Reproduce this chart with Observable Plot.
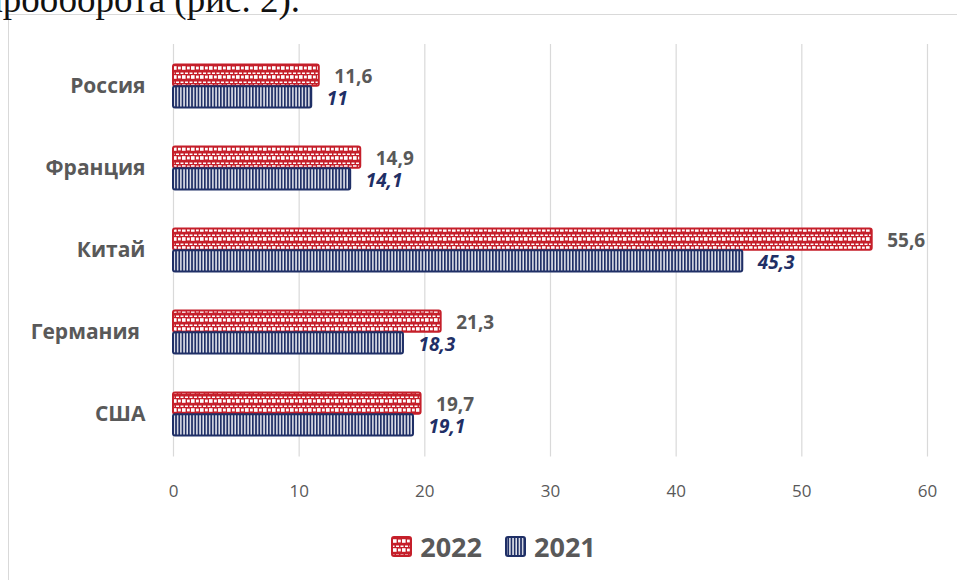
<!DOCTYPE html>
<html>
<head>
<meta charset="utf-8">
<script src="https://cdn.jsdelivr.net/npm/d3@7"></script>
<script src="https://cdn.jsdelivr.net/npm/@observablehq/plot@0.6"></script>
<style>
  html, body { margin: 0; padding: 0; background: #fff; }
  #wrap { position: relative; width: 957px; height: 580px; overflow: hidden; }
  #frame { position: absolute; left: 8px; top: 14px; width: 1200px; height: 1200px; border: 1.5px solid #d9d9d9; box-sizing: border-box; }
  #lead { position: absolute; right: 657px; top: -19px; font-family: "Liberation Serif", serif; font-size: 37px; line-height: 37px; color: #111; white-space: nowrap; }
  #chart { position: absolute; left: 0; top: 0; }
  #chart svg [aria-label="x-axis tick label"] { font-size: 17px; }
  #chart svg [aria-label="y-axis tick label"] { font-size: 21px; font-weight: 700; }
  #legend { position: absolute; left: 15px; top: 528px; width: 957px; display: flex; justify-content: center; align-items: center; gap: 23px; font-family: "Open Sans", sans-serif; font-weight: 700; font-size: 27px; color: #595959; }
  #legend .item { display: flex; align-items: center; gap: 8px; }
  #legend svg { display: block; }
</style>
</head>
<body>
<div id="wrap">
  <div id="frame"></div>
  <div id="lead">товарооборота (рис. 2).</div>
  <div id="chart"></div>
  <div id="legend"></div>
</div>
<script>
const countries = ["Россия", "Франция", "Китай", "Германия", "США"];
const values2022 = [11.6, 14.9, 55.6, 21.3, 19.7];
const values2021 = [11, 14.1, 45.3, 18.3, 19.1];
const labels2022 = ["11,6", "14,9", "55,6", "21,3", "19,7"];
const labels2021 = ["11", "14,1", "45,3", "18,3", "19,1"];
const xTicks = [0, 10, 20, 30, 40, 50, 60];
const seriesNames = ["2022", "2021"];

const red = "#C51F2A";
const navy = "#1F2F66";
const gray = "#595959";

const rows = countries.map((c, i) => ({
  country: c, v22: values2022[i], v21: values2021[i], l22: labels2022[i], l21: labels2021[i]
}));

const plot = Plot.plot({
  width: 957,
  height: 515,
  marginLeft: 173,
  marginRight: 30,
  marginTop: 44,
  marginBottom: 58.5,
  style: { fontFamily: "Open Sans, sans-serif", background: "transparent", overflow: "visible" },
  x: { domain: [0, 60], ticks: xTicks },
  y: { domain: countries, padding: 0 },
  marks: [
    Plot.gridX(xTicks, { stroke: "#d9d9d9", strokeOpacity: 1, strokeWidth: 1.2 }),
    Plot.axisX(xTicks, {
      tickSize: 0, tickPadding: 28, fontSize: 17, color: gray, label: null,
      tickFormat: d => String(d)
    }),
    Plot.axisY({
      tickSize: 0, tickPadding: 28, fontSize: 21, fontWeight: "bold", color: gray, label: null,
      tickFormat: d => d === "Германия" ? d + "\u00a0" : d
    }),
    Plot.barX(rows, {
      x: "v22", y: "country", insetTop: 19.5, insetBottom: 41.25,
      fill: "url(#pat2022)", stroke: red, strokeWidth: 2, rx: 2
    }),
    Plot.barX(rows, {
      x: "v21", y: "country", insetTop: 41.25, insetBottom: 19.5,
      fill: "url(#pat2021)", stroke: navy, strokeWidth: 2, rx: 2
    }),
    Plot.text(rows, {
      x: "v22", y: "country", text: "l22", textAnchor: "start", dx: 15, dy: -10,
      fill: gray, fontSize: 19, fontWeight: "bold"
    }),
    Plot.text(rows, {
      x: "v21", y: "country", text: "l21", textAnchor: "start", dx: 15, dy: 12,
      fill: navy, fontSize: 19, fontWeight: "bold", fontStyle: "italic"
    })
  ]
});

function addDefs(svgSel) {
  const defs = svgSel.insert("defs", ":first-child");
  const p1 = defs.append("pattern").attr("id", "pat2022").attr("patternUnits", "userSpaceOnUse")
    .attr("width", 9).attr("height", 9);
  p1.append("rect").attr("width", 9).attr("height", 9).attr("fill", red);
  [[0.5, 0.5, 3, 1.5], [5, 0.5, 3, 1.5], [2, 3.2, 3.6, 3.6], [7, 3.6, 2, 2.8], [0, 3.6, 0.8, 2.8]].forEach(([x, y, w, h]) =>
    p1.append("rect").attr("x", x).attr("y", y).attr("width", w).attr("height", h).attr("fill", "#fff"));
  const p2 = defs.append("pattern").attr("id", "pat2021").attr("patternUnits", "userSpaceOnUse")
    .attr("width", 3.2).attr("height", 8);
  p2.append("rect").attr("width", 3.2).attr("height", 8).attr("fill", navy);
  p2.append("rect").attr("x", 1).attr("width", 1.3).attr("height", 8).attr("fill", "#fff");
}
addDefs(d3.select(plot));
document.getElementById("chart").appendChild(plot);

// legend
const legend = d3.select("#legend");
seriesNames.forEach((name, i) => {
  const item = legend.append("div").attr("class", "item");
  const s = item.append("svg").attr("width", 21).attr("height", 21);
  s.append("rect").attr("x", 1).attr("y", 1).attr("width", 19).attr("height", 19).attr("rx", 2)
    .attr("fill", i === 0 ? "url(#pat2022)" : "url(#pat2021)")
    .attr("stroke", i === 0 ? red : navy).attr("stroke-width", 2);
  item.append("span").text(name);
});
</script>
</body>
</html>
